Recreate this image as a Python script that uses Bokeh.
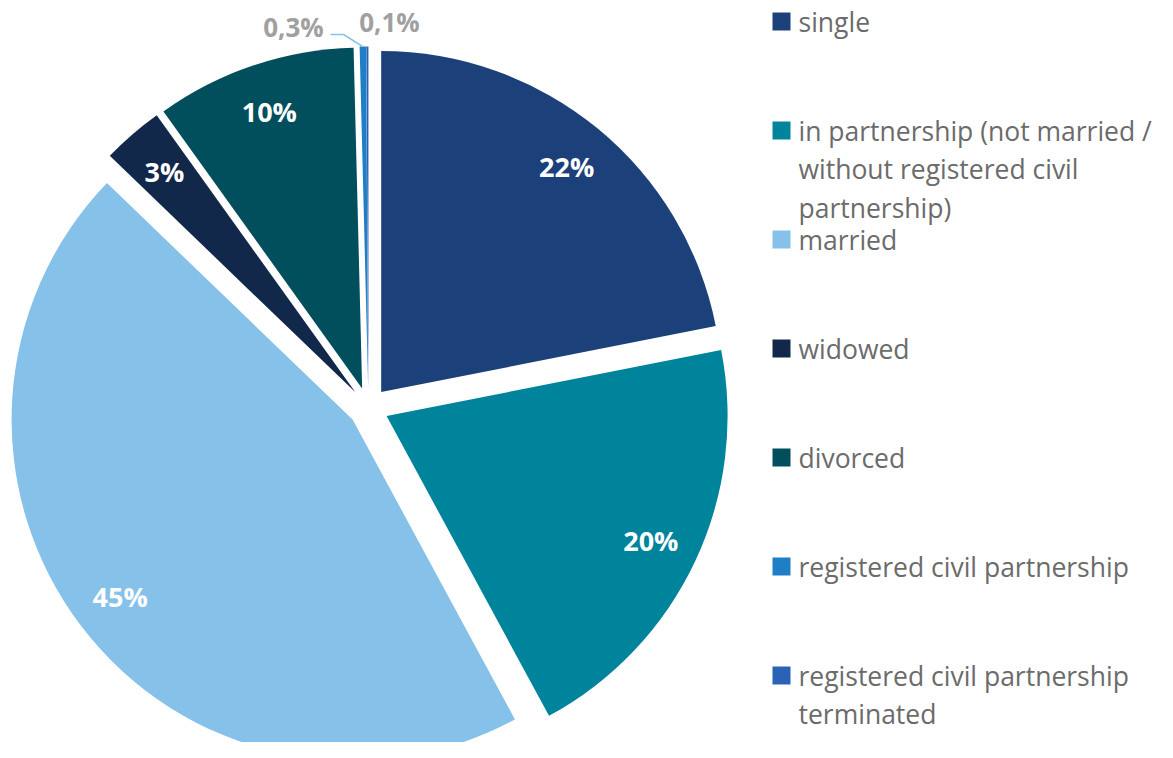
import math
from bokeh.plotting import figure
from bokeh.models import Range1d, ColumnDataSource
from bokeh.core.properties import value
from bokeh.embed import file_html
from bokeh.resources import INLINE

# ---------------- data ----------------
categories = [
    "single",
    "in partnership (not married /\nwithout registered civil\npartnership)",
    "married",
    "widowed",
    "divorced",
    "registered civil partnership",
    "registered civil partnership\nterminated",
]
shares = [21.9, 20.2, 45.1, 2.9, 9.5, 0.3, 0.1]
pct_labels = ["22%", "20%", "45%", "3%", "10%", "0,3%", "0,1%"]
colors = ["#1c4079", "#00849c", "#86c1ea", "#12284b", "#014e5c", "#1f7fc4", "#2a63b6"]

# ---------------- layout / style ----------------
W, H = 1157, 742
SCREEN_H = 758
CX, CY_S = 368, 407       # pie centre (picture px)
R = 341
EXPLODE = 20
LBL_R = 312
inside = [True, True, True, True, True, False, False]
outside_offsets = {5: (-75, -381), 6: (21, -386)}   # label offsets for small slices
TEXT_GREY = "#6b6b6b"
LABEL_GREY = "#a0a0a0"


def sy(y_screen):
    return SCREEN_H - y_screen


p = figure(width=W, height=H, output_backend="svg", toolbar_location=None,
           x_range=Range1d(0, W), y_range=Range1d(SCREEN_H - H, SCREEN_H),
           min_border=0, outline_line_color=None)
p.axis.visible = False
p.grid.visible = False
p.background_fill_color = "white"
p.border_fill_color = "white"

total = sum(shares)
cum = 0.0
wx, wy, starts, ends = [], [], [], []
lx, ly, ltxt = [], [], []
gx, gy, gtxt = [], [], []
leader_x, leader_y = None, None
for i, v in enumerate(shares):
    a0 = cum / total * 2 * math.pi
    cum += v
    a1 = cum / total * 2 * math.pi
    mid = (a0 + a1) / 2
    cx = CX + EXPLODE * math.sin(mid)
    cy = sy(CY_S) + EXPLODE * math.cos(mid)
    wx.append(cx)
    wy.append(cy)
    starts.append(math.pi / 2 - a1)
    ends.append(math.pi / 2 - a0)
    if inside[i]:
        lx.append(CX + LBL_R * math.sin(mid))
        ly.append(sy(CY_S) + LBL_R * math.cos(mid))
        ltxt.append(pct_labels[i])
    else:
        ox, oy = outside_offsets[i]
        gx.append(CX + ox)
        gy.append(sy(CY_S + oy))
        gtxt.append(pct_labels[i])
        if i == 5:
            # leader line from label to slice edge
            tipx = cx + R * math.sin(mid)
            tipy = cy + R * math.cos(mid)
            lab_x = CX + ox + 37
            lab_y = sy(CY_S + oy + 8)
            leader_x = [lab_x, lab_x + 13, tipx]
            leader_y = [lab_y, lab_y, tipy]

src = ColumnDataSource(dict(x=wx, y=wy, s=starts, e=ends, c=colors))
p.wedge(x="x", y="y", radius=R, start_angle="s", end_angle="e", direction="anticlock",
        fill_color="c", line_color=None, source=src)

p.text(x=lx, y=ly, text=ltxt, text_color="white", text_font=value("Open Sans"),
       text_font_size="27px", text_font_style="bold", text_align="center",
       text_baseline="middle")
p.text(x=gx, y=gy, text=gtxt, text_color=LABEL_GREY, text_font=value("Open Sans"),
       text_font_size="26px", text_font_style="bold", text_align="center",
       text_baseline="middle")
if leader_x:
    p.line(leader_x, leader_y, line_color="#86c1ea", line_width=1.5)

# ---------------- legend ----------------
LEG_X_SQ = 781
LEG_X_TXT = 798
LEG_Y0 = 21
LEG_STEP = 109
LINE_STEP = 38.5
sqx, sqy = [], []
tx, ty, tt = [], [], []
for i, name in enumerate(categories):
    yc = LEG_Y0 + i * LEG_STEP
    sqx.append(LEG_X_SQ)
    sqy.append(sy(yc))
    for k, line in enumerate(name.split("\n")):
        tx.append(LEG_X_TXT)
        ty.append(sy(yc + k * LINE_STEP))
        tt.append(line)

p.rect(x=sqx, y=sqy, width=18, height=18, width_units="screen", height_units="screen",
       fill_color=colors, line_color=None)
p.text(x=tx, y=ty, text=tt, text_color=TEXT_GREY, text_font=value("Open Sans"),
       text_font_size="26.5px", text_align="left", text_baseline="middle")

open("out.html", "w").write(file_html(p, INLINE))
